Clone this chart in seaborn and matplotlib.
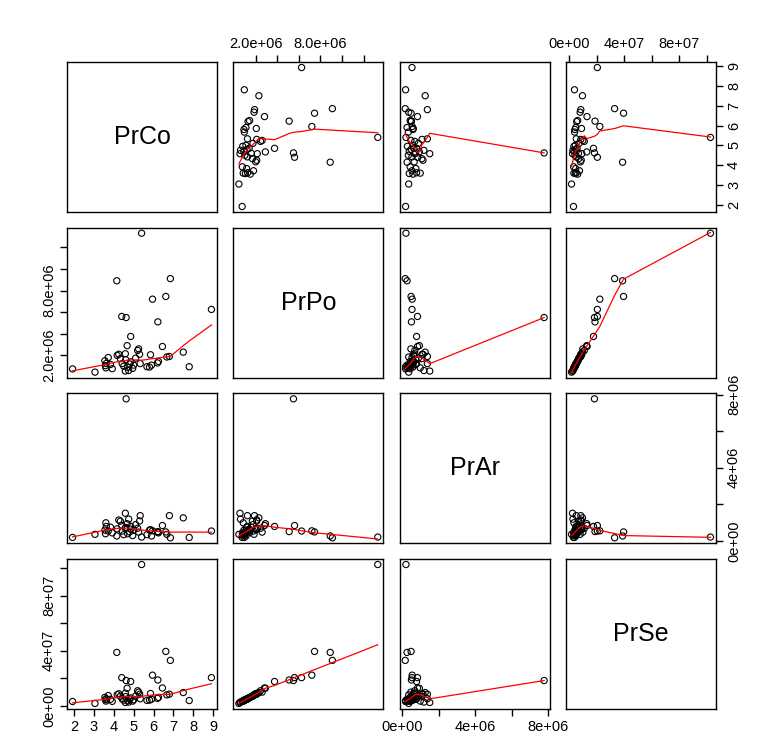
import numpy as np
import pandas as pd
import seaborn as sns
import matplotlib
matplotlib.use("Agg")
import matplotlib.pyplot as plt

plt.rcParams['font.family'] = ['Liberation Sans', 'DejaVu Sans']
plt.rcParams['axes.linewidth'] = 1.0

names = ['PrCo', 'PrPo', 'PrAr', 'PrSe']

prco = [5.40, 4.15, 6.62, 6.85, 5.95, 8.92, 4.40, 4.62, 6.22, 4.85,
        1.92, 3.05, 7.80, 7.50, 6.80, 6.67, 6.45, 6.20, 5.80, 5.67,
        5.85, 5.90, 6.25, 5.33, 5.25, 5.20, 5.00, 4.75, 4.58, 4.67,
        4.58, 4.42, 4.33, 4.17, 3.92, 3.83, 3.60, 3.55, 3.58, 3.62,
        4.70, 4.85, 4.95, 5.10, 4.50, 4.25, 3.72, 5.30, 4.80, 4.60]
prpo = np.array([13.30, 8.90, 7.45, 9.10, 7.20, 6.25, 5.60, 5.50, 5.10, 3.75,
                 0.75, 0.45, 0.95, 2.30, 1.90, 1.85, 2.82, 1.30, 0.92, 0.95,
                 2.06, 1.10, 1.44, 1.24, 2.60, 2.45, 1.10, 0.60, 0.55, 2.90,
                 2.15, 1.24, 1.70, 2.00, 0.77, 1.16, 0.85, 1.50, 1.05, 1.25,
                 0.90, 1.40, 0.80, 1.75, 1.00, 2.10, 1.80, 2.10, 1.20, 1.60]) * 1e6
prar = np.array([0.22, 0.28, 0.50, 0.18, 0.56, 0.55, 0.85, 7.77, 0.52, 0.80,
                 0.20, 0.37, 0.20, 1.27, 1.39, 0.37, 0.85, 0.49, 0.60, 0.35,
                 0.62, 0.28, 0.45, 1.39, 0.49, 0.70, 0.60, 1.20, 1.52, 0.95,
                 0.70, 0.55, 1.09, 0.67, 0.45, 0.76, 1.00, 0.60, 0.40, 0.80,
                 0.40, 0.65, 0.30, 0.90, 0.35, 1.15, 0.55, 1.10, 0.50, 0.75]) * 1e6
prse = np.array([10.25, 3.88, 3.95, 3.30, 2.23, 2.05, 2.05, 1.84, 1.88, 1.77,
                 0.32, 0.18, 0.39, 0.97, 0.85, 0.80, 1.30, 0.55, 0.42, 0.40,
                 0.90, 0.48, 0.62, 0.52, 1.00, 1.10, 0.45, 0.28, 0.25, 1.28,
                 0.92, 0.50, 0.70, 0.82, 0.33, 0.48, 0.35, 0.62, 0.45, 0.52,
                 0.38, 0.58, 0.35, 0.72, 0.42, 0.88, 0.75, 0.85, 0.50, 0.68]) * 1e7

ticks = {
    'PrCo': [2, 3, 4, 5, 6, 7, 8, 9],
    'PrPo': [2e6, 4e6, 6e6, 8e6, 10e6, 12e6],
    'PrAr': [0, 2e6, 4e6, 6e6, 8e6],
    'PrSe': [0, 2e7, 4e7, 6e7, 8e7, 10e7],
}
tick_labels = {
    'PrCo': ['2', '3', '4', '5', '6', '7', '8', '9'],
    'PrPo': ['2.0e+06', '', '', '8.0e+06', '', ''],
    'PrAr': ['0e+00', '', '4e+06', '', '8e+06'],
    'PrSe': ['0e+00', '', '4e+07', '', '8e+07', ''],
}

df = pd.DataFrame({'PrCo': prco, 'PrPo': prpo, 'PrAr': prar, 'PrSe': prse})


def lowess(x, y, f=2/3, iters=3):
    x = np.asarray(x, float)
    y = np.asarray(y, float)
    o = np.argsort(x, kind='stable')
    x, y = x[o], y[o]
    n = len(x)
    ns = max(min(int(f * n + 1e-7), n), 2)
    rng = x.max() - x.min()
    rw = np.ones(n)
    fit = np.zeros(n)
    for it in range(iters + 1):
        for i in range(n):
            d = np.abs(x - x[i])
            h = np.sort(d)[ns - 1]
            if h > 0:
                u = d / h
                w = np.where(u <= 0.001, 1.0, np.where(u < 0.999, (1 - u ** 3) ** 3, 0.0))
            else:
                w = (d == 0).astype(float)
            w = w * rw
            sw = w.sum()
            if sw <= 0:
                fit[i] = y[i]
                continue
            w = w / sw
            xm = (w * x).sum()
            c = (w * (x - xm) ** 2).sum()
            if np.sqrt(c) > 0.001 * rng:
                b = (w * (x - xm) * (y - (w * y).sum())).sum() / c
                fit[i] = (w * y).sum() + b * (x[i] - xm)
            else:
                fit[i] = (w * y).sum()
        res = y - fit
        cmad = 6 * np.median(np.abs(res))
        if cmad < 1e-7 * np.mean(np.abs(y)):
            break
        u = np.abs(res) / cmad
        rw = np.where(u <= 0.001, 1.0, np.where(u < 0.999, (1 - u ** 2) ** 2, 0.0))
    return x, fit


def panel(x, y, **kwargs):
    ax = plt.gca()
    ax.scatter(x, y, s=20, facecolors='none', edgecolors='black', linewidths=0.8, zorder=2)
    lx, ly = lowess(x, y)
    ax.plot(lx, ly, color='red', lw=0.9, zorder=3)


g = sns.PairGrid(df, vars=names, height=1.5, despine=False)
g.map_offdiag(panel)

fig = g.figure
fig.set_size_inches(7.6, 7.52)

axes = g.axes
for i in range(4):
    for j in range(4):
        ax = axes[i, j]
        ax.set_xlabel('')
        ax.set_ylabel('')
        ax.tick_params(axis='both', which='both', bottom=False, top=False, left=False, right=False,
                       labelbottom=False, labeltop=False, labelleft=False, labelright=False)
        for s in ax.spines.values():
            s.set_color('black')
            s.set_linewidth(1.0)

for k, v in enumerate(names):
    lo, hi = df[v].min(), df[v].max()
    pad = 0.04 * (hi - lo)
    axes[0, k].set_xticks(ticks[v], tick_labels[v])
    axes[k, 0].set_yticks(ticks[v], tick_labels[v])
    axes[0, k].set_xlim(lo - pad, hi + pad)
    axes[k, 0].set_ylim(lo - pad, hi + pad)
    axes[k, k].text(0.5, 0.5, v, transform=axes[k, k].transAxes, ha='center', va='center', fontsize=18)

kw = dict(length=5, width=1, labelsize=10.5, color='black', pad=3)
axes[3, 0].tick_params(axis='x', bottom=True, labelbottom=True, **kw)
axes[3, 2].tick_params(axis='x', bottom=True, labelbottom=True, **kw)
axes[0, 1].tick_params(axis='x', top=True, labeltop=True, **kw)
axes[0, 3].tick_params(axis='x', top=True, labeltop=True, **kw)
axes[1, 0].tick_params(axis='y', left=True, labelleft=True, labelrotation=90, **kw)
axes[3, 0].tick_params(axis='y', left=True, labelleft=True, labelrotation=90, **kw)
axes[0, 3].tick_params(axis='y', right=True, labelright=True, labelrotation=90, **kw)
axes[2, 3].tick_params(axis='y', right=True, labelright=True, labelrotation=90, **kw)
for ax in [axes[1, 0], axes[3, 0], axes[0, 3], axes[2, 3]]:
    for lab in ax.get_yticklabels():
        lab.set_va('center')

fig.subplots_adjust(left=67 / 760, right=716 / 760, top=1 - 62 / 752, bottom=1 - 709 / 752,
                    wspace=0.109, hspace=0.104)
fig.savefig('out.png', dpi=100, facecolor='white')
